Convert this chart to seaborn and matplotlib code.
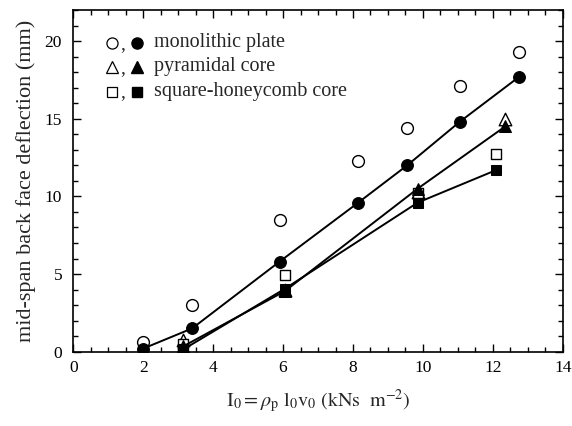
import matplotlib
matplotlib.use("Agg")
import matplotlib.pyplot as plt
import seaborn as sns
import pandas as pd
from matplotlib.ticker import MultipleLocator

# ---- data ----
mono_x = [2.0, 3.4, 5.9, 8.15, 9.55, 11.05, 12.75]
mono_filled = [0.2, 1.5, 5.8, 9.6, 12.0, 14.8, 17.7]
mono_open = [0.6, 3.0, 8.5, 12.3, 14.4, 17.1, 19.3]

pyr_x = [3.15, 6.05, 9.85, 12.35]
pyr_filled = [0.35, 3.9, 10.5, 14.5]
pyr_open = [0.75, 4.0, 10.3, 15.0]

sq_x = [3.15, 6.05, 9.85, 12.1]
sq_filled = [0.15, 4.05, 9.6, 11.7]
sq_open = [0.5, 4.95, 10.2, 12.7]

labels = ["monolithic plate", "pyramidal core", "square-honeycomb core"]
xticks = [0, 2, 4, 6, 8, 10, 12, 14]
yticks = [0, 5, 10, 15, 20]

sns.set_style("ticks")
plt.rcParams["font.family"] = ["Liberation Serif", "DejaVu Serif"]
plt.rcParams["mathtext.fontset"] = "stix"

fig = plt.figure(figsize=(5.72, 4.26), dpi=100)
ax = fig.add_axes([0.128, 0.1744, 0.856, 0.8021])

series = [
    (mono_x, mono_open, mono_filled, "o", 8.5, 8.5),
    (pyr_x, pyr_open, pyr_filled, "^", 9, 9),
    (sq_x, sq_open, sq_filled, "s", 7.5, 7.5),
]

# open symbols first
for xs, yo, yf, m, ms_o, ms_f in series:
    df = pd.DataFrame({"x": xs, "y": yo})
    sns.scatterplot(data=df, x="x", y="y", marker=m, s=ms_o ** 2,
                    facecolor="white", edgecolor="black", linewidth=1.0,
                    ax=ax, zorder=3)

# filled symbols with connecting lines
for xs, yo, yf, m, ms_o, ms_f in series:
    df = pd.DataFrame({"x": xs, "y": yf})
    sns.lineplot(data=df, x="x", y="y", color="black", linewidth=1.4,
                 marker=m, markersize=ms_f, markerfacecolor="black",
                 markeredgecolor="black", sort=False, ax=ax, zorder=4)

ax.set_xlim(0, 14)
ax.set_ylim(0, 22)
ax.set_xticks(xticks)
ax.set_yticks(yticks)
ax.xaxis.set_minor_locator(MultipleLocator(0.5))
ax.yaxis.set_minor_locator(MultipleLocator(1))
ax.tick_params(which="both", direction="in", top=True, right=True,
               labelsize=12.5, width=1.0, colors="black")
ax.tick_params(axis="x", which="major", pad=6)
ax.tick_params(axis="y", which="major", pad=8)
ax.tick_params(which="major", length=6)
ax.tick_params(which="minor", length=3.5)
for sp in ax.spines.values():
    sp.set_visible(True)
    sp.set_linewidth(1.2)
    sp.set_color("black")

ax.set_xlabel(r"$\mathrm{I_0 = }\rho_\mathrm{p}\ \mathrm{l_0 v_0\ (kNs\ \ m^{-2})}$",
              fontsize=14.5, labelpad=8)
ax.set_ylabel("mid-span back face deflection (mm)", fontsize=16, labelpad=6)

# legend drawn in axes coordinates
rows_y = [0.904, 0.834, 0.761]
markers = ["o", "^", "s"]
sizes = [8, 8.5, 7]
for yy, m, ms, lab in zip(rows_y, markers, sizes, labels):
    ax.plot([0.080], [yy], marker=m, markersize=ms, markerfacecolor="white",
            markeredgecolor="black", markeredgewidth=0.9,
            transform=ax.transAxes, linestyle="none")
    ax.text(0.102, yy - 0.004, ",", transform=ax.transAxes, fontsize=14,
            ha="center", va="center")
    ax.plot([0.131], [yy], marker=m, markersize=ms, markerfacecolor="black",
            markeredgecolor="black", transform=ax.transAxes, linestyle="none")
    ax.text(0.166, yy, lab, transform=ax.transAxes, fontsize=14.5,
            ha="left", va="center")

fig.savefig("out.png", dpi=100)
